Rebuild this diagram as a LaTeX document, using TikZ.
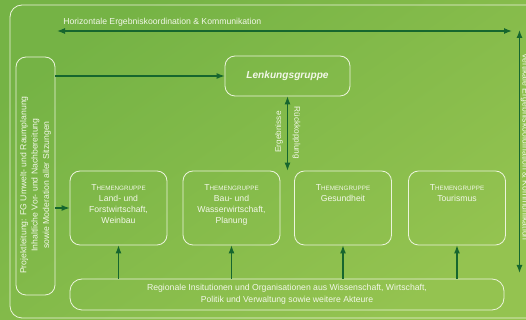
\documentclass[tikz,border=0pt]{standalone}
\usepackage{fontspec}
\setmainfont{Liberation Sans}
\usetikzlibrary{positioning,arrows.meta}

\definecolor{bgtop}{RGB}{117,179,69}
\definecolor{bgbot}{RGB}{148,195,80}
\definecolor{arrgreen}{RGB}{22,102,46}
\definecolor{boxline}{RGB}{236,244,220}
\definecolor{txtlight}{RGB}{242,247,232}

% small caps by hand (Liberation Sans has none)
\newcommand{\tgcaps}{T{\fontsize{4.7}{6}\selectfont HEMENGRUPPE}}

\begin{document}
\begin{tikzpicture}[
    x=0.75pt, y=-0.75pt,
    every node/.style={font=\fontsize{6.5}{8.2}\selectfont, text=txtlight},
    gbox/.style={draw=boxline, rounded corners=7.5pt, line width=0.6pt, inner sep=0pt},
    tgbox/.style={gbox, minimum width=72.75pt, minimum height=55.5pt},
    tgtext/.style={align=center, inner sep=0pt},
    arr/.style={draw=arrgreen, line width=0.9pt, -{Latex[length=6pt,width=4.5pt]}},
    darr/.style={draw=arrgreen, line width=0.9pt, {Latex[length=6pt,width=4.5pt]}-{Latex[length=6pt,width=4.5pt]}},
]

% Background and frame
\useasboundingbox (0,0) rectangle (526,320);
\shade[top color=bgtop, bottom color=bgbot, shading angle=35] (0,0) rectangle (526,320);
\draw[draw=boxline, line width=0.6pt, rounded corners=9pt] (10,5) rectangle (560,318);

% ================================================================
% Horizontal and vertical coordination arrows
% ================================================================
\coordinate (hl) at (57,31);
\coordinate (hr) at (512,31);
\coordinate (vt) at (519.5,30);
\coordinate (vb) at (519.5,273);
\draw[darr] (hl) -- (hr);
\draw[darr] (vt) -- (vb);
\node[anchor=base west, inner sep=0pt] (hlab) at (63,25) {Horizontale Ergebniskoordination \& Kommunikation};
\node[rotate=-90, anchor=base, inner sep=0pt] (vlab) at (522.5,147) {Vertikale Ergebniskoordination \& Kommunikation};

% ================================================================
% Projektleitung (left column)
% ================================================================
\node[gbox, minimum width=29.25pt, minimum height=178.5pt] (pl) at (35.5,176) {};
\node[rotate=90, align=center, inner sep=0pt, font=\fontsize{6.5}{8.6}\selectfont] (pltxt) at (35.5,185) {Projektleitung: FG Umwelt- und Raumplanung\\Inhaltliche Vor- und Nachbereitung\\sowie Moderation aller Sitzungen};

% ================================================================
% Lenkungsgruppe
% ================================================================
\node[gbox, minimum width=93.75pt, minimum height=30pt, font=\fontsize{7.6}{9}\selectfont\bfseries\itshape] (lg) at (287.5,76) {Lenkungsgruppe};

% ================================================================
% Themengruppen
% ================================================================
\node[tgbox] (tg1) at (118.5,208) {};
\node[tgbox] (tg2) at (231.5,208) {};
\node[tgbox] (tg3) at (343,208) {};
\node[tgbox] (tg4) at (457,208) {};
\node[tgtext, below=10.5pt of tg1.north] (tg1txt) {\tgcaps\\Land- und\\Forstwirtschaft,\\Weinbau};
\node[tgtext, below=10.5pt of tg2.north] (tg2txt) {\tgcaps\\Bau- und\\Wasserwirtschaft,\\Planung};
\node[tgtext, below=10.5pt of tg3.north] (tg3txt) {\tgcaps\\Gesundheit};
\node[tgtext, below=10.5pt of tg4.north] (tg4txt) {\tgcaps\\Tourismus};

% ================================================================
% Regionale Akteure (bottom)
% ================================================================
\node[gbox, rounded corners=9pt, minimum width=325.5pt, minimum height=23.25pt, align=center, font=\fontsize{6.5}{9}\selectfont] (ak) at (287,294.5) {Regionale Insitutionen und Organisationen aus Wissenschaft, Wirtschaft,\\Politik und Verwaltung sowie weitere Akteure};

% Connections
\draw[arr] (pl.east |- lg.west) -- (lg.west);
\draw[arr] (pl.east |- tg1.west) -- (tg1.west);
\draw[darr] (lg.south) -- (lg.south |- tg3.north);
\node[rotate=90, inner sep=0pt, font=\fontsize{6.2}{7}\selectfont] (erg) at (279,132) {Ergebnisse};
\node[rotate=-90, inner sep=0pt, font=\fontsize{6.2}{7}\selectfont] (rk) at (296.5,133) {Rückkopplung};
\draw[arr] (tg1.south |- ak.north) -- (tg1.south);
\draw[arr] (tg2.south |- ak.north) -- (tg2.south);
\draw[arr] (tg3.south |- ak.north) -- (tg3.south);
\draw[arr] (tg4.south |- ak.north) -- (tg4.south);

\end{tikzpicture}
\end{document}
